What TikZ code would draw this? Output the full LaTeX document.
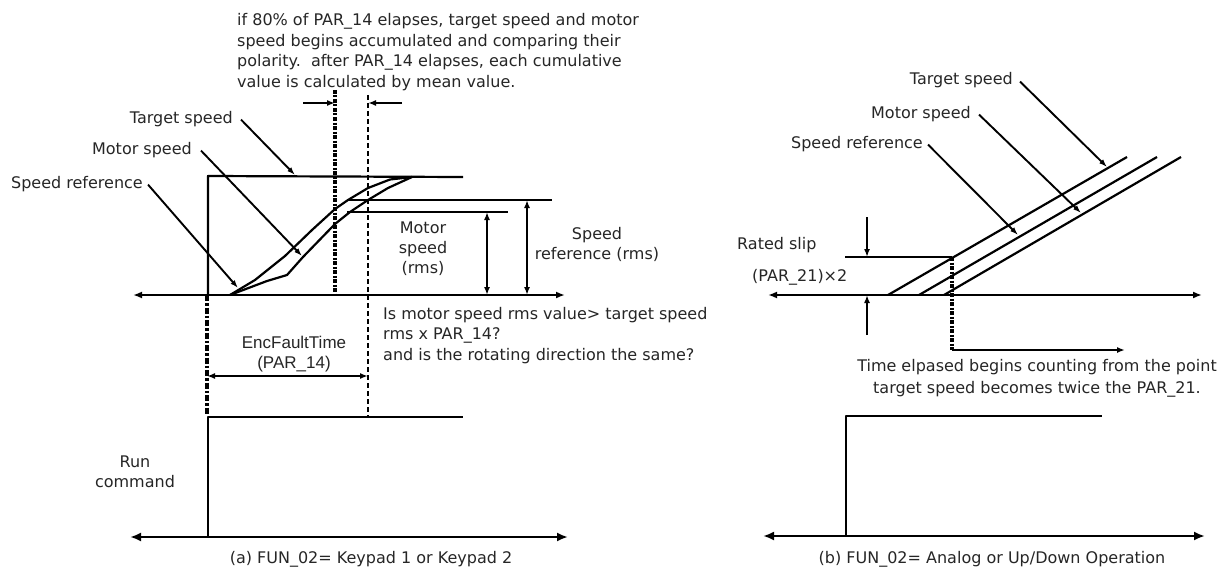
\documentclass[tikz,border=0pt]{standalone}
\usepackage{fontspec}
\setmainfont{DejaVu Sans}
\newfontfamily\narrowfont{Liberation Sans}
\usetikzlibrary{arrows.meta}
\begin{document}
\begin{tikzpicture}[x=1pt,y=-1pt,
  txt/.style={font=\fontsize{16}{20}\selectfont, text=black!85, inner sep=0pt},
  ln/.style={line width=2.2pt, line join=round},
  lead/.style={line width=1.9pt, -{Latex[length=8pt,width=5.5pt]}},
  dbl/.style={line width=1.9pt, {Latex[length=8pt,width=6pt]}-{Latex[length=8pt,width=6pt]}},
  axsmall/.style={line width=2.2pt, {Latex[length=9pt,width=7pt]}-{Latex[length=9pt,width=7pt]}},
  axbig/.style={line width=2.2pt, {Latex[length=11pt,width=9pt]}-{Latex[length=11pt,width=9pt]}},
  onearrow/.style={line width=1.9pt, -{Latex[length=8pt,width=6pt]}},
  heavydot/.style={line width=3.4pt, dash pattern=on 4pt off 1.5pt on 2pt off 1.5pt},
  heavydashdot/.style={line width=3.8pt, dash pattern=on 6pt off 2pt on 2.5pt off 2pt},
  dashln/.style={line width=2pt, dash pattern=on 5pt off 3pt}
]
\useasboundingbox (0,0) rectangle (1230,567);
\fill[white] (0,0) rectangle (1230,567);

% ================= LEFT PANEL =================
\node[txt, anchor=base west] (noteA) at (237,26) {if 80\% of PAR\_14 elapses, target speed and motor};
\node[txt, anchor=base west] (noteB) at (237,46.5) {speed begins accumulated and comparing their};
\node[txt, anchor=base west] (noteC) at (237,67) {polarity.\ \ after PAR\_14 elapses, each cumulative};
\node[txt, anchor=base west] (noteD) at (237,88) {value is calculated by mean value.};

% coordinates
\coordinate (axLa) at (133,295);
\coordinate (axLb) at (565,295);
\coordinate (stepB) at (208,295);
\coordinate (stepT) at (208,176);
\coordinate (stepR) at (463,177);
\coordinate (dotT) at (335,90);
\coordinate (dotB) at (335,295);
\coordinate (dashT) at (368,95);
\coordinate (dashB) at (368,417);
\coordinate (mkL) at (303,103);
\coordinate (mkLe) at (335,103);
\coordinate (mkR) at (402,103);
\coordinate (mkRe) at (368,103);

% target speed step
\draw[ln] (stepB) -- (stepT) -- (stepR);
% curves
\draw[ln] (230,295) -- (255,280) -- (285,256) -- (312,230) -- (335,209) -- (348,200) -- (368,188) -- (390,179.5) -- (412,177);
\draw[ln] (230,295) -- (267,281) -- (287,275) -- (303,257) -- (335,224) -- (350,212) -- (368,200) -- (388,188) -- (412,177);
% rms levels
\coordinate (refL) at (348,200);
\coordinate (refR) at (552,200);
\coordinate (motL) at (347,212);
\coordinate (motR) at (508,212);
\draw[ln] (refL) -- (refR);
\draw[ln] (motL) -- (motR);
\coordinate (motAT) at (487,212);
\coordinate (motAB) at (487,295);
\coordinate (refAT) at (527,200);
\coordinate (refAB) at (527,295);
\draw[dbl] (motAB) -- (motAT);
\draw[dbl] (refAB) -- (refAT);

% axis
\draw[axsmall] (axLa) -- (axLb);

% time markers
\draw[heavydot] (dotT) -- (dotB);
\draw[dashln] (dashT) -- (dashB);
\draw[onearrow] (mkL) -- (mkLe);
\draw[onearrow] (mkR) -- (mkRe);

% labels with leaders
\node[txt, anchor=base east] (lTs) at (233,123) {Target speed};
\node[txt, anchor=base east] (lMs) at (192,154) {Motor speed};
\node[txt, anchor=base east] (lSr) at (143,188) {Speed reference};
\coordinate (tTs) at (295,175);
\coordinate (tMs) at (302,256);
\coordinate (tSr) at (238,288);
\draw[lead] ([shift={(8,1)}]lTs.east) -- (tTs);
\draw[lead] ([shift={(9,1)}]lMs.east) -- (tMs);
\draw[lead] ([shift={(5,1)}]lSr.east) -- (tSr);

\node[txt, anchor=north, align=center] (lMrms) at (423,222) {Motor\\speed\\(rms)};
\node[txt, anchor=north, align=center] (lSrms) at (597,227) {Speed\\reference (rms)};

\node[txt, anchor=north west, align=left, font=\fontsize{16}{20.5}\selectfont] (qText) at (383,307)
  {Is motor speed rms value> target speed\\rms x PAR\_14?\\and is the rotating direction the same?};

% EncFaultTime
\coordinate (ddT) at (207,295);
\coordinate (ddB) at (207,415);
\draw[heavydashdot] (ddT) -- (ddB);
\node[txt, anchor=north, align=center, font=\narrowfont\fontsize{17}{20}\selectfont] (lEnc) at (294,336) {EncFaultTime\\(PAR\_14)};
\coordinate (encA) at (207,376);
\coordinate (encB) at (368,376);
\draw[dbl] (encA) -- (encB);

% run command
\coordinate (runB) at (208,537);
\coordinate (runT) at (208,417);
\coordinate (runR) at (463,417);
\draw[ln] (runB) -- (runT) -- (runR);
\coordinate (axLc) at (130,537);
\coordinate (axLd) at (568,537);
\draw[axbig] (axLc) -- (axLd);
\node[txt, anchor=north, align=center] (lRun) at (135,456) {Run\\command};
\node[txt, anchor=base] (capA) at (371,563) {(a) FUN\_02= Keypad 1 or Keypad 2};

% ================= RIGHT PANEL =================
\coordinate (axRa) at (768,295);
\coordinate (axRb) at (1202,295);
\draw[axsmall] (axRa) -- (axRb);
\coordinate (l1a) at (888,295);
\coordinate (l1b) at (1127,157);
\coordinate (l2a) at (919,295);
\coordinate (l2b) at (1157,157);
\coordinate (l3a) at (944,295);
\coordinate (l3b) at (1181,157);
\draw[ln] (l1a) -- (l1b);
\draw[ln] (l2a) -- (l2b);
\draw[ln] (l3a) -- (l3b);

\node[txt, anchor=base east] (rTs) at (1013,85) {Target speed};
\node[txt, anchor=base east] (rMs) at (971,118) {Motor speed};
\node[txt, anchor=base east] (rSr) at (923,148) {Speed reference};
\coordinate (rtTs) at (1107,167);
\coordinate (rtMs) at (1081,213);
\coordinate (rtSr) at (1018,235);
\draw[lead] ([shift={(7,1)}]rTs.east) -- (rtTs);
\draw[lead] ([shift={(8,1)}]rMs.east) -- (rtMs);
\draw[lead] ([shift={(5,1)}]rSr.east) -- (rtSr);

% rated slip
\coordinate (slL) at (845,257);
\coordinate (slR) at (952,257);
\draw[ln] (slL) -- (slR);
\coordinate (dnT) at (867,217);
\coordinate (dnB) at (867,257);
\coordinate (upB) at (867,335);
\coordinate (upT) at (867,295);
\draw[onearrow] (dnT) -- (dnB);
\draw[onearrow] (upB) -- (upT);
\node[txt, anchor=base west] (lRs) at (737,249) {Rated slip};
\node[txt, anchor=base west] (lPar) at (752,281) {(PAR\_21)×2};

\coordinate (rdT) at (952,257);
\coordinate (rdB) at (952,350);
\draw[heavydot] (rdT) -- (rdB);
\coordinate (teA) at (952,350);
\coordinate (teB) at (1125,350);
\draw[onearrow] (teA) -- (teB);
\node[txt, anchor=north, align=center, font=\fontsize{16}{22}\selectfont] (lTe) at (1037,359)
  {Time elpased begins counting from the point\\target speed becomes twice the PAR\_21.};

% run command right
\coordinate (rrB) at (846,536);
\coordinate (rrT) at (846,416);
\coordinate (rrR) at (1102,416);
\draw[ln] (rrB) -- (rrT) -- (rrR);
\coordinate (axRc) at (763,536);
\coordinate (axRd) at (1205,536);
\draw[axbig] (axRc) -- (axRd);
\node[txt, anchor=base] (capB) at (992,563) {(b) FUN\_02= Analog or Up/Down Operation};
\end{tikzpicture}
\end{document}
